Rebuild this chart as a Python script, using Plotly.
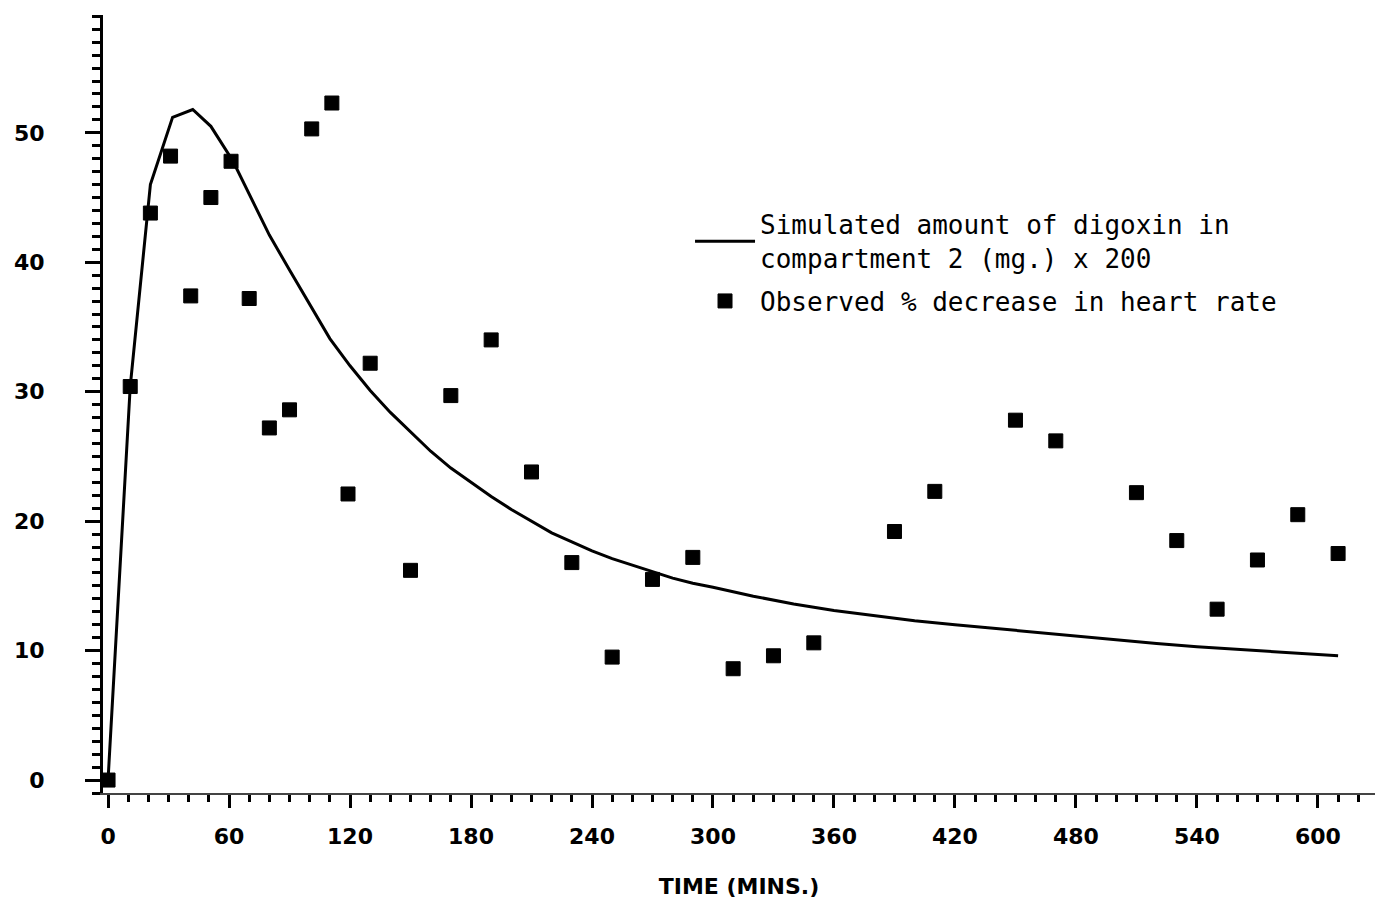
import plotly.graph_objects as go

# Simulated curve (time in minutes, amount x 200)
sim_time = [0, 11, 21, 32, 42, 51, 62, 70, 80, 90, 100, 110, 120, 130, 140, 150, 160, 170,
            180, 190, 200, 210, 220, 230, 240, 250, 260, 270, 280, 290, 300, 320, 340, 360,
            380, 400, 420, 440, 460, 480, 500, 520, 540, 560, 580, 600, 610]
sim_value = [0, 30.4, 46.0, 51.2, 51.8, 50.5, 47.8, 45.3, 42.1, 39.4, 36.7, 34.1, 32.0, 30.1,
             28.4, 26.9, 25.4, 24.1, 23.0, 21.9, 20.9, 20.0, 19.1, 18.4, 17.7, 17.1, 16.6,
             16.1, 15.6, 15.2, 14.9, 14.2, 13.6, 13.1, 12.7, 12.3, 12.0, 11.7, 11.4, 11.1,
             10.8, 10.55, 10.3, 10.1, 9.9, 9.7, 9.6]

# Observed % decrease in heart rate
obs_time = [0, 11, 21, 31, 41, 51, 61, 70, 80, 90, 101, 111, 119, 130, 150, 170, 190, 210,
            230, 250, 270, 290, 310, 330, 350, 390, 410, 450, 470, 510, 530, 550, 570, 590, 610]
obs_value = [0, 30.4, 43.8, 48.2, 37.4, 45.0, 47.8, 37.2, 27.2, 28.6, 50.3, 52.3, 22.1, 32.2,
             16.2, 29.7, 34.0, 23.8, 16.8, 9.5, 15.5, 17.2, 8.6, 9.6, 10.6, 19.2, 22.3, 27.8,
             26.2, 22.2, 18.5, 13.2, 17.0, 20.5, 17.5]

x_ticks = [0, 60, 120, 180, 240, 300, 360, 420, 480, 540, 600]
y_ticks = [0, 10, 20, 30, 40, 50]

sim_name = "Simulated amount of digoxin in<br>compartment 2 (mg.) x 200"
obs_name = "Observed % decrease in heart rate"

fig = go.Figure()
fig.add_trace(go.Scatter(x=sim_time, y=sim_value, mode="lines", name=sim_name,
                         legendgroup="sim",
                         line=dict(color="black", width=3)))
fig.add_trace(go.Scatter(x=obs_time, y=obs_value, mode="markers", name=obs_name,
                         legendgroup="obs",
                         marker=dict(symbol="square", size=14, color="black",
                                     line=dict(width=1, color="black"))))

tick_font = dict(family="DejaVu Sans", size=22, color="black", weight="bold")

fig.update_layout(
    width=1375, height=899,
    margin=dict(l=103, r=0, t=15, b=103),
    paper_bgcolor="white", plot_bgcolor="white",
    showlegend=True,
    legend=dict(x=0.4615, y=0.761, xanchor="left", yanchor="top",
                font=dict(family="DejaVu Sans Mono", size=26, color="black"),
                bgcolor="rgba(0,0,0,0)", itemwidth=60, traceorder="grouped",
                tracegroupgap=6),
    xaxis=dict(range=[-2.5, 628.3], tickmode="array", tickvals=x_ticks,
               ticktext=[str(v) for v in x_ticks], showgrid=False, zeroline=False,
               showline=True, linecolor="#444", linewidth=2,
               ticks="outside", ticklen=13, tickwidth=3, tickcolor="black",
               tickfont=tick_font, ticklabelstandoff=10,
               minor=dict(dtick=10, tick0=0, ticks="outside", ticklen=7, tickwidth=3,
                          tickcolor="black", showgrid=False),
               title=dict(text="TIME (MINS.)", standoff=34,
                          font=dict(family="DejaVu Sans", size=22, color="black", weight="bold"))),
    yaxis=dict(range=[-1, 59.1], tickmode="array", tickvals=y_ticks,
               ticktext=[str(v) for v in y_ticks], showgrid=False, zeroline=False,
               showline=True, linecolor="black", linewidth=3,
               ticks="outside", ticklen=15, tickwidth=3, tickcolor="black",
               tickfont=tick_font, ticklabelstandoff=36,
               minor=dict(dtick=1, tick0=0, ticks="outside", ticklen=8, tickwidth=3,
                          tickcolor="black", showgrid=False)),
)

fig.write_html("out.html")
